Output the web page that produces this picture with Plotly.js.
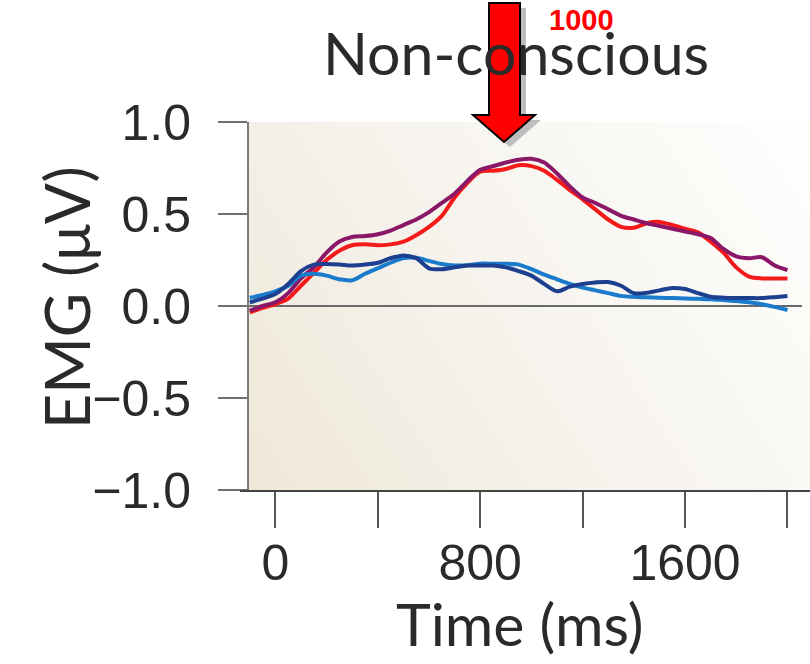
<!DOCTYPE html>
<html>
<head>
<meta charset="utf-8">
<script src="https://cdn.plot.ly/plotly-3.0.1.min.js"></script>
<style>html,body{margin:0;padding:0;background:#fff;}#chart{width:810px;height:664px;}</style>
</head>
<body>
<div id="chart"></div>
<script>
// ---- data ----
const timeMs = [-100,-50,0,50,100,150,200,250,300,350,400,450,500,550,600,650,700,750,800,850,900,950,1000,1050,1100,1150,1200,1250,1300,1350,1400,1450,1500,1550,1600,1650,1700,1750,1800,1850,1900,1950,2000];
const purpleEMG = [-0.025,0.0,0.02,0.07,0.15,0.21,0.29,0.35,0.375,0.38,0.39,0.41,0.44,0.47,0.51,0.56,0.61,0.68,0.74,0.76,0.78,0.795,0.80,0.78,0.72,0.65,0.59,0.56,0.525,0.49,0.47,0.45,0.435,0.42,0.405,0.39,0.37,0.31,0.27,0.26,0.265,0.22,0.195];
const redEMG = [-0.035,-0.01,0.01,0.04,0.11,0.18,0.25,0.30,0.33,0.335,0.33,0.335,0.35,0.385,0.43,0.49,0.59,0.67,0.73,0.735,0.745,0.765,0.76,0.735,0.685,0.63,0.58,0.525,0.47,0.43,0.425,0.45,0.457,0.44,0.42,0.40,0.35,0.29,0.21,0.16,0.15,0.15,0.15];
const darkBlueEMG = [0.02,0.04,0.065,0.12,0.19,0.225,0.228,0.225,0.22,0.225,0.235,0.26,0.275,0.26,0.205,0.20,0.21,0.22,0.22,0.22,0.21,0.19,0.165,0.12,0.08,0.105,0.12,0.128,0.13,0.11,0.07,0.072,0.085,0.098,0.092,0.07,0.05,0.045,0.043,0.043,0.043,0.048,0.054];
const lightBlueEMG = [0.045,0.06,0.08,0.11,0.165,0.175,0.165,0.145,0.14,0.175,0.205,0.235,0.26,0.262,0.245,0.228,0.22,0.222,0.23,0.23,0.23,0.225,0.20,0.17,0.145,0.12,0.10,0.085,0.07,0.055,0.05,0.047,0.045,0.043,0.041,0.039,0.037,0.032,0.027,0.02,0.01,-0.005,-0.022];
const xTickVals = [0,400,800,1200,1600,2000];
const xTickText = ['0','','800','','1600',''];
const yTickVals = [-1,-0.5,0,0.5,1];
const chartTitle = 'Non-conscious';
const xTitle = 'Time (ms)';
const yTitle = 'EMG (\u03bcV)';
const markerLabel = '1000';

// ---- layout helpers (pixel -> paper) ----
const L = 249, R = 810, T = 122, B = 490;
const PX = v => (v - L) / (R - L);
const PY = v => (B - v) / (B - T);

function arrowPath(dx, dy) {
  const pts = [[489,3],[520,3],[520,115],[535,115],[504,142],[473,115],[489,115]];
  return 'M ' + pts.map(p => PX(p[0]+dx).toFixed(5) + ',' + PY(p[1]+dy).toFixed(5)).join(' L ') + ' Z';
}

// background gradient image
const cv = document.createElement('canvas');
cv.width = 561; cv.height = 368;
const ctx = cv.getContext('2d');
const g = ctx.createLinearGradient(0, 368, 561, 0);
g.addColorStop(0, '#efe8d8');
g.addColorStop(0.45, '#f6f3ed');
g.addColorStop(1, '#fefefd');
ctx.fillStyle = g;
ctx.fillRect(0, 0, 561, 368);
const bgURL = cv.toDataURL('image/png');

const lineW = 4;
const traces = [
  {x: timeMs, y: redEMG, mode: 'lines', line: {color: '#f41a1a', width: lineW, shape: 'spline', smoothing: 0.8}, name: 'red'},
  {x: timeMs, y: purpleEMG, mode: 'lines', line: {color: '#8a1767', width: lineW, shape: 'spline', smoothing: 0.8}, name: 'purple'},
  {x: timeMs, y: lightBlueEMG, mode: 'lines', line: {color: '#1a7bcc', width: lineW, shape: 'spline', smoothing: 0.8}, name: 'light blue'},
  {x: timeMs, y: darkBlueEMG, mode: 'lines', line: {color: '#1c3f8f', width: lineW, shape: 'spline', smoothing: 0.8}, name: 'dark blue'}
];

const tickFont = {family: '"Liberation Sans", Arial, sans-serif', size: 50, color: '#2a2a2a'};
const titleFont = {family: 'Lato, "Noto Sans", sans-serif', size: 59, color: '#2a2a2a'};

const layout = {
  width: 810, height: 664,
  margin: {l: L, r: 810 - R, t: T, b: 664 - B, pad: 0},
  paper_bgcolor: '#ffffff',
  plot_bgcolor: 'rgba(0,0,0,0)',
  showlegend: false,
  title: {text: chartTitle, font: titleFont, xref: 'paper', x: PX(516), xanchor: 'center', yref: 'container', y: 1 - 54/664, yanchor: 'middle'},
  xaxis: {
    range: [-103, 2088], tickmode: 'array', tickvals: xTickVals, ticktext: xTickText,
    ticks: 'outside', ticklen: 36, tickwidth: 2, tickcolor: '#555',
    showline: true, linecolor: '#444', linewidth: 2, showgrid: false, zeroline: false,
    tickfont: tickFont, ticklabelstandoff: -8
  },
  yaxis: {
    range: [-1, 1], tickmode: 'array', tickvals: yTickVals, tickformat: '.1f',
    ticks: 'outside', ticklen: 29, tickwidth: 2, tickcolor: '#707070',
    showline: true, linecolor: '#7a7a7a', linewidth: 2, showgrid: false,
    zeroline: false,
    tickfont: tickFont, ticklabelstandoff: 17
  },
  images: [{source: bgURL, xref: 'paper', yref: 'paper', x: 0, y: 1, sizex: 1, sizey: 1, sizing: 'stretch', xanchor: 'left', yanchor: 'top', layer: 'below'}],
  shapes: [
    {type: 'line', xref: 'paper', yref: 'y', x0: 0, x1: PX(802), y0: 0, y1: 0, line: {color: '#6a6a6a', width: 2}, layer: 'below'},
    {type: 'line', xref: 'paper', yref: 'paper', x0: PX(240), x1: 1, y0: PY(491), y1: PY(491), line: {color: '#444', width: 2}, layer: 'above'},
    {type: 'path', xref: 'paper', yref: 'paper', path: arrowPath(6, 5), fillcolor: '#bdbdbd', line: {width: 0}, layer: 'above'},
    {type: 'path', xref: 'paper', yref: 'paper', path: arrowPath(0, 0), fillcolor: '#ff0000', line: {color: '#000', width: 2}, layer: 'above'}
  ],
  annotations: [
    {text: xTitle, xref: 'paper', yref: 'paper', x: PX(519), y: PY(623), xanchor: 'center', yanchor: 'middle', showarrow: false,
     font: titleFont},
    {text: yTitle, xref: 'paper', yref: 'paper', x: PX(66), y: PY(297), xanchor: 'center', yanchor: 'middle', textangle: -90, showarrow: false,
     font: {family: titleFont.family, size: 61, color: titleFont.color}},
    {text: markerLabel, xref: 'paper', yref: 'paper', x: PX(581), y: PY(20), xanchor: 'center', yanchor: 'middle', showarrow: false,
     font: {family: '"Liberation Sans", Arial, sans-serif', size: 29, color: '#ff0000', weight: 'bold'}}
  ]
};

Plotly.newPlot('chart', traces, layout, {displayModeBar: false, staticPlot: true});
</script>
</body>
</html>
